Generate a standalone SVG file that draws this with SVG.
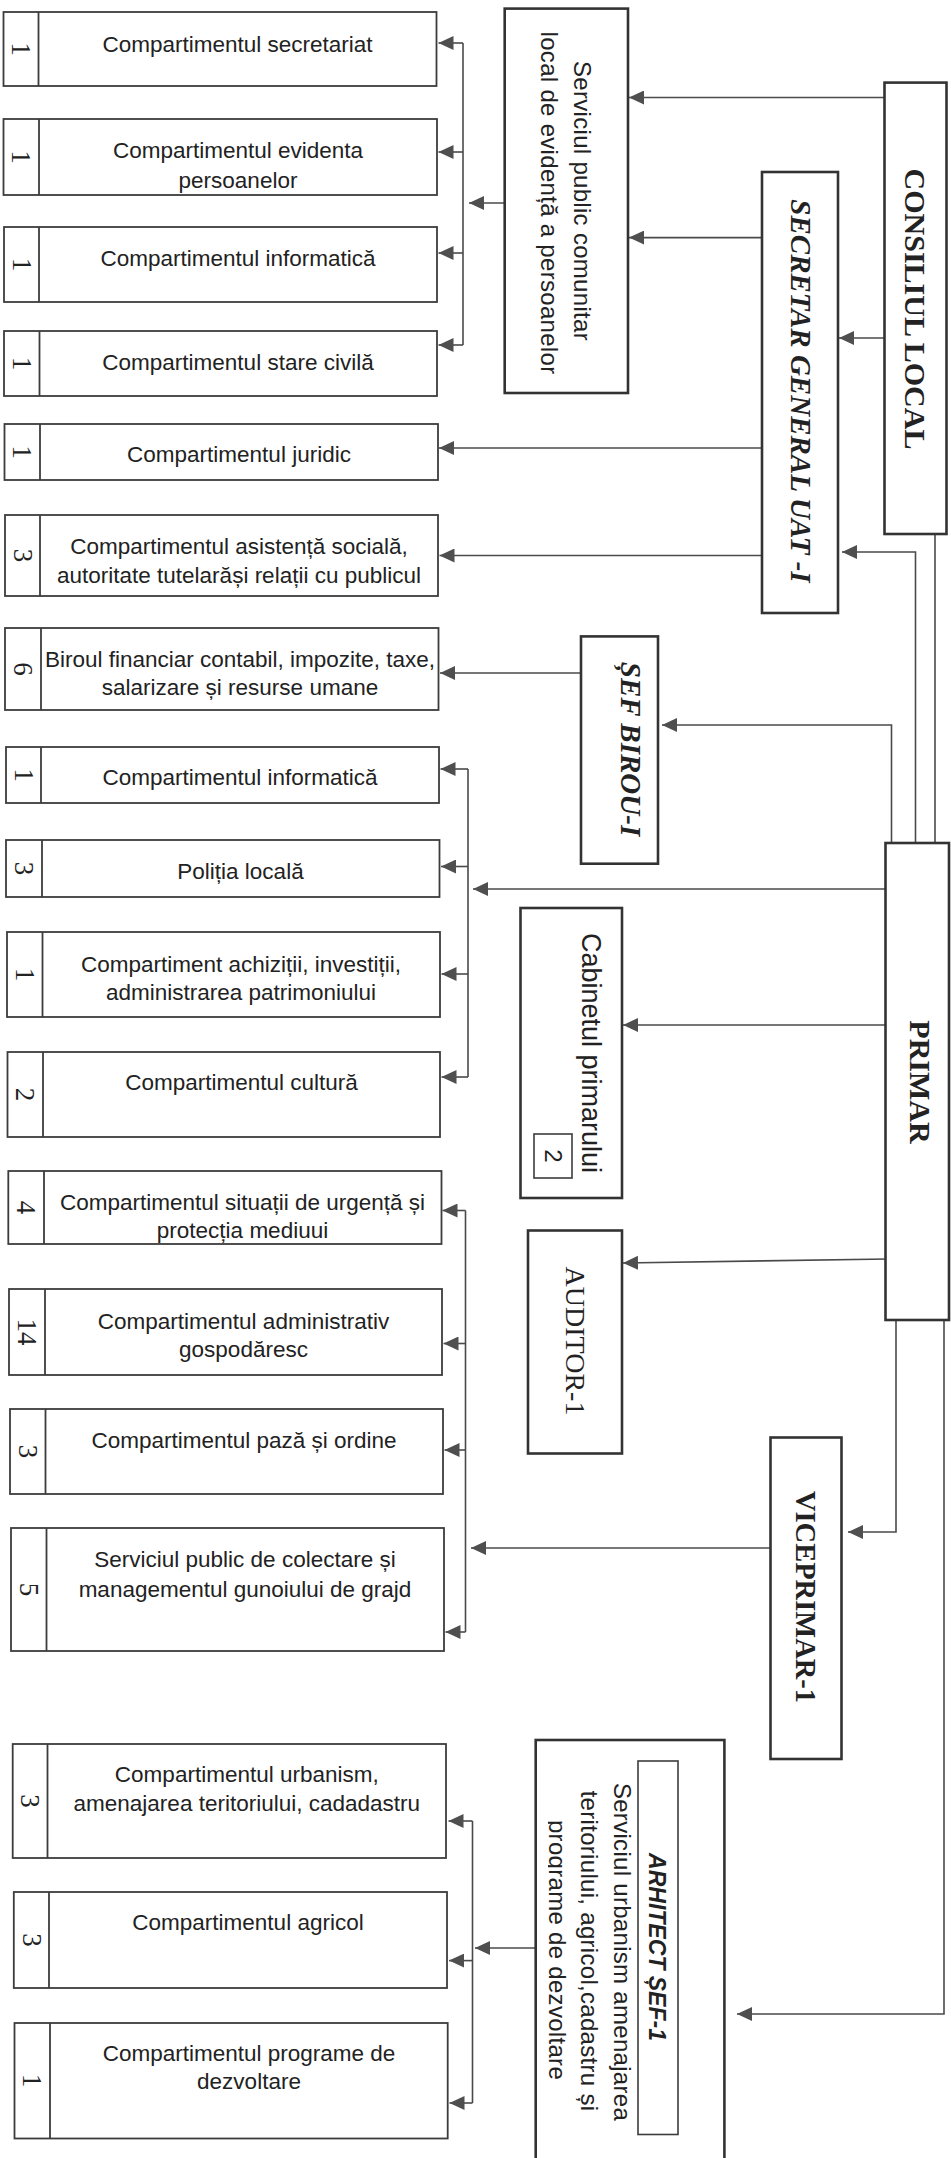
<svg xmlns="http://www.w3.org/2000/svg" width="951" height="2158" viewBox="0 0 951 2158">
<style>
.bg{fill:#ffffff}
.box{fill:#ffffff;stroke:#3c3c3c;stroke-width:1.8}
.div{stroke:#3c3c3c;stroke-width:1.8}
.mbox{fill:#ffffff;stroke:#333333;stroke-width:2.6}
.ibox{fill:#ffffff;stroke:#3c3c3c;stroke-width:1.6}
.t{font-family:"Liberation Sans",Arial,sans-serif;font-size:22.5px;fill:#222222;text-anchor:middle}
.num{font-family:"Liberation Serif","Times New Roman",serif;font-size:27px;fill:#222222;text-anchor:middle}
.serif{font-family:"Liberation Serif","Times New Roman",serif;fill:#222222;text-anchor:middle}
.sans{font-family:"Liberation Sans",Arial,sans-serif;fill:#222222;text-anchor:middle}
.svc{font-family:"Liberation Sans",Arial,sans-serif;font-size:24px;letter-spacing:0.3px;fill:#222222;text-anchor:middle}
.conn{fill:none;stroke:#4a4a4a;stroke-width:1.6}
.arr{fill:none;stroke:#4a4a4a;stroke-width:1.6;marker-end:url(#ah)}
</style>
<defs>
<marker id="ah" markerUnits="userSpaceOnUse" markerWidth="15" markerHeight="14" refX="15" refY="7" orient="auto">
<path d="M0,0 L15,7 L0,14 Z" fill="#4f4f4f"/>
</marker>
<clipPath id="clip3"><rect x="548" y="1700" width="200" height="460"/></clipPath>
</defs>
<rect class="bg" x="0" y="0" width="951" height="2158"/>

<g id="connectors">
<path class="arr" d="M884.5,97.5 H629"/>
<path class="arr" d="M762,237.6 H629"/>
<path class="arr" d="M884.5,338 H839"/>
<path class="arr" d="M504.7,203 H469"/>
<path class="conn" d="M463,43 V345"/>
<path class="arr" d="M463,43 H438.5"/>
<path class="arr" d="M463,152 H438.5"/>
<path class="arr" d="M463,253 H438.5"/>
<path class="arr" d="M463,345 H438.5"/>
<path class="arr" d="M762,448 H439"/>
<path class="arr" d="M762,555.5 H439.5"/>
<path class="arr" d="M915.5,843 V552 H842"/>
<path class="conn" d="M935,534 V843"/>
<path class="arr" d="M581,673 H440"/>
<path class="arr" d="M891.5,843 V725 H662"/>
<path class="arr" d="M885.5,889 H473"/>
<path class="conn" d="M468,769 V1077"/>
<path class="arr" d="M468,769 H440.5"/>
<path class="arr" d="M468,866.5 H441"/>
<path class="arr" d="M468,974 H441.5"/>
<path class="arr" d="M468,1077 H441.5"/>
<path class="arr" d="M885.5,1025 H623"/>
<path class="arr" d="M888,1259 L623,1263"/>
<path class="arr" d="M896,1320 V1532 H848"/>
<path class="arr" d="M770.5,1548 H471"/>
<path class="conn" d="M465.5,1210.5 V1632"/>
<path class="arr" d="M465.5,1210.5 H442.5"/>
<path class="arr" d="M465.5,1343.5 H443.5"/>
<path class="arr" d="M465.5,1450 H444.5"/>
<path class="arr" d="M465.5,1632 H445.5"/>
<path class="arr" d="M944,1320 V2014 H737"/>
<path class="arr" d="M535.7,1948 H475"/>
<path class="conn" d="M472.5,1821 V2103"/>
<path class="arr" d="M472.5,1821 H448.5"/>
<path class="arr" d="M472.5,1960.6 H449"/>
<path class="arr" d="M472.5,2103 H449.5"/>
</g>

<g id="consiliul-local">
<rect class="mbox" x="884.5" y="82.6" width="62" height="451.4"/>
<text class="serif" font-size="30" font-weight="bold" transform="translate(905,309) rotate(90)">CONSILIUL LOCAL</text>
</g>

<g id="secretar-general">
<rect class="mbox" x="762" y="172" width="76" height="441"/>
<text class="serif" font-size="29" font-weight="bold" font-style="italic" transform="translate(791,391) rotate(90)">SECRETAR GENERAL UAT -I</text>
</g>

<g id="serviciul-evidenta">
<rect class="mbox" x="504.7" y="8.6" width="123.3" height="384.4"/>
<text class="svc" transform="translate(574,201) rotate(90)">Serviciul public comunitar</text>
<text class="svc" transform="translate(541,203) rotate(90)">local de evidență a persoanelor</text>
</g>

<g id="sef-birou">
<rect class="mbox" x="581" y="636.4" width="77" height="227.3"/>
<text class="serif" font-size="29" font-weight="bold" font-style="italic" transform="translate(621,749) rotate(90)">ȘEF BIROU-I</text>
</g>

<g id="primar">
<rect class="mbox" x="885.5" y="843" width="63.5" height="477"/>
<text class="serif" font-size="30" font-weight="bold" transform="translate(910,1082) rotate(90)">PRIMAR</text>
</g>

<g id="cabinetul">
<rect class="mbox" x="520.5" y="908" width="101.5" height="290"/>
<text class="sans" font-size="27" transform="translate(582,1053) rotate(90)">Cabinetul primarului</text>
<rect class="ibox" x="534" y="1134" width="38" height="44"/>
<text class="sans" font-size="24" transform="translate(545,1156) rotate(90)">2</text>
</g>

<g id="auditor">
<rect class="mbox" x="528" y="1230.5" width="94" height="223"/>
<text class="serif" font-size="28" transform="translate(566,1341) rotate(90)">AUDITOR-1</text>
</g>

<g id="viceprimar">
<rect class="mbox" x="770.5" y="1437.5" width="71" height="321.5"/>
<text class="serif" font-size="28.5" font-weight="bold" transform="translate(796,1597) rotate(90)">VICEPRIMAR-1</text>
</g>

<g id="arhitect">
<rect class="mbox" x="535.7" y="1740" width="188.7" height="430"/>
<rect class="ibox" x="638" y="1761" width="40" height="373.5"/>
<text class="sans" font-size="23" font-weight="bold" font-style="italic" transform="translate(649,1947) rotate(90)">ARHITECT ȘEF-1</text>
<text class="svc" transform="translate(614,1952) rotate(90)">Serviciul urbanism amenajarea</text>
<text class="svc" transform="translate(581,1951) rotate(90)">teritoriului, agricol,cadastru și</text>
<g clip-path="url(#clip3)">
<text class="svc" transform="translate(549,1950) rotate(90)">programe de dezvoltare</text>
</g>
</g>

<g id="c-secretariat">
<rect class="box" x="3.5" y="12" width="433" height="74"/>
<line class="div" x1="38.5" y1="12" x2="38.5" y2="86"/>
<text class="num" transform="translate(12,49) rotate(90)">1</text>
<text class="t" x="237.5" y="51.7">Compartimentul secretariat</text>
</g>

<g id="c-evidenta">
<rect class="box" x="3.5" y="119" width="433.5" height="76"/>
<line class="div" x1="39" y1="119" x2="39" y2="195"/>
<text class="num" transform="translate(12,157) rotate(90)">1</text>
<text class="t" x="238" y="158.4">Compartimentul evidenta</text>
<text class="t" x="238" y="187.7">persoanelor</text>
</g>

<g id="c-informatica-1">
<rect class="box" x="4" y="227" width="433" height="75"/>
<line class="div" x1="39" y1="227" x2="39" y2="302"/>
<text class="num" transform="translate(12.5,264.5) rotate(90)">1</text>
<text class="t" x="238" y="265.8">Compartimentul informatică</text>
</g>

<g id="c-stare-civila">
<rect class="box" x="4" y="331" width="433" height="65"/>
<line class="div" x1="39.5" y1="331" x2="39.5" y2="396"/>
<text class="num" transform="translate(12.5,363.5) rotate(90)">1</text>
<text class="t" x="238" y="369.5">Compartimentul stare civilă</text>
</g>

<g id="c-juridic">
<rect class="box" x="4.5" y="424" width="433.5" height="56"/>
<line class="div" x1="40" y1="424" x2="40" y2="480"/>
<text class="num" transform="translate(13,452) rotate(90)">1</text>
<text class="t" x="239" y="462">Compartimentul juridic</text>
</g>

<g id="c-asistenta">
<rect class="box" x="5" y="515" width="433" height="81"/>
<line class="div" x1="40" y1="515" x2="40" y2="596"/>
<text class="num" transform="translate(13.5,555.5) rotate(90)">3</text>
<text class="t" x="239" y="554">Compartimentul asistență socială,</text>
<text class="t" x="239" y="583">autoritate tutelarăși relații cu publicul</text>
</g>

<g id="c-biroul-financiar">
<rect class="box" x="5" y="628" width="433.5" height="82"/>
<line class="div" x1="41" y1="628" x2="41" y2="710"/>
<text class="num" transform="translate(14,669) rotate(90)">6</text>
<text class="t" x="240" y="667">Biroul financiar contabil, impozite, taxe,</text>
<text class="t" x="240" y="695.4">salarizare și resurse umane</text>
</g>

<g id="c-informatica-2">
<rect class="box" x="6" y="747" width="433" height="56"/>
<line class="div" x1="41" y1="747" x2="41" y2="803"/>
<text class="num" transform="translate(14.5,775) rotate(90)">1</text>
<text class="t" x="240" y="785">Compartimentul informatică</text>
</g>

<g id="c-politia">
<rect class="box" x="6" y="840" width="433.5" height="57"/>
<line class="div" x1="42" y1="840" x2="42" y2="897"/>
<text class="num" transform="translate(15,868.5) rotate(90)">3</text>
<text class="t" x="240.5" y="878.8">Poliția locală</text>
</g>

<g id="c-achizitii">
<rect class="box" x="7" y="932" width="433" height="85"/>
<line class="div" x1="42.5" y1="932" x2="42.5" y2="1017"/>
<text class="num" transform="translate(15.5,974.5) rotate(90)">1</text>
<text class="t" x="241" y="972">Compartiment achiziții, investiții,</text>
<text class="t" x="241" y="1000">administrarea patrimoniului</text>
</g>

<g id="c-cultura">
<rect class="box" x="7.5" y="1052" width="432.5" height="85"/>
<line class="div" x1="43" y1="1052" x2="43" y2="1137"/>
<text class="num" transform="translate(16,1094.5) rotate(90)">2</text>
<text class="t" x="241.5" y="1090">Compartimentul cultură</text>
</g>

<g id="c-situatii-urgenta">
<rect class="box" x="8.3" y="1171" width="433.2" height="73"/>
<line class="div" x1="44" y1="1171" x2="44" y2="1244"/>
<text class="num" transform="translate(17,1207.5) rotate(90)">4</text>
<text class="t" x="242.5" y="1210">Compartimentul situații de urgență și</text>
<text class="t" x="242.5" y="1238.4">protecția mediuui</text>
</g>

<g id="c-administrativ">
<rect class="box" x="9" y="1289" width="433" height="86"/>
<line class="div" x1="45" y1="1289" x2="45" y2="1375"/>
<text class="num" transform="translate(18,1332) rotate(90)">14</text>
<text class="t" x="243.5" y="1328.6">Compartimentul administrativ</text>
<text class="t" x="243.5" y="1357">gospodăresc</text>
</g>

<g id="c-paza">
<rect class="box" x="10" y="1409" width="433" height="85"/>
<line class="div" x1="45.5" y1="1409" x2="45.5" y2="1494"/>
<text class="num" transform="translate(18.5,1451.5) rotate(90)">3</text>
<text class="t" x="244" y="1447.8">Compartimentul pază și ordine</text>
</g>

<g id="c-colectare">
<rect class="box" x="11" y="1528" width="433" height="123"/>
<line class="div" x1="46.5" y1="1528" x2="46.5" y2="1651"/>
<text class="num" transform="translate(19.5,1589.5) rotate(90)">5</text>
<text class="t" x="245" y="1567">Serviciul public de colectare și</text>
<text class="t" x="245" y="1596.5">managementul gunoiului de grajd</text>
</g>

<g id="c-urbanism">
<rect class="box" x="12.7" y="1744" width="433.3" height="114"/>
<line class="div" x1="47.5" y1="1744" x2="47.5" y2="1858"/>
<text class="num" transform="translate(21,1801) rotate(90)">3</text>
<text class="t" x="246.8" y="1781.6">Compartimentul urbanism,</text>
<text class="t" x="246.8" y="1811">amenajarea teritoriului, cadadastru</text>
</g>

<g id="c-agricol">
<rect class="box" x="13.8" y="1892" width="433.2" height="96"/>
<line class="div" x1="49" y1="1892" x2="49" y2="1988"/>
<text class="num" transform="translate(22.5,1940) rotate(90)">3</text>
<text class="t" x="248" y="1929.6">Compartimentul agricol</text>
</g>

<g id="c-programe">
<rect class="box" x="14.5" y="2023" width="433.2" height="115.5"/>
<line class="div" x1="50" y1="2023" x2="50" y2="2138.5"/>
<text class="num" transform="translate(23,2080.5) rotate(90)">1</text>
<text class="t" x="249" y="2060.5">Compartimentul programe de</text>
<text class="t" x="249" y="2089">dezvoltare</text>
</g>
</svg>
